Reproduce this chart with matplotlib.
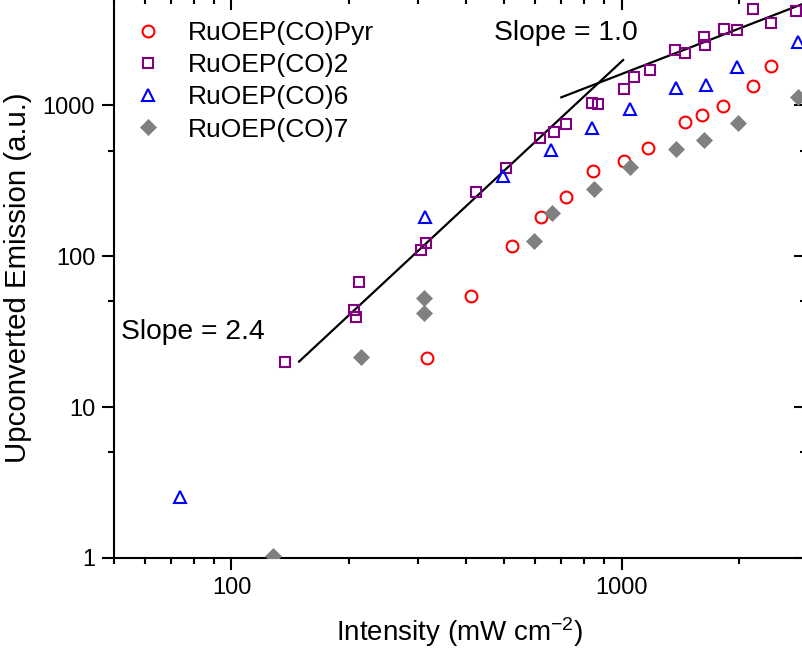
import matplotlib
matplotlib.use("Agg")
import matplotlib.pyplot as plt
from matplotlib.ticker import FixedLocator, NullFormatter, FuncFormatter
import numpy as np

plt.rcParams['font.family'] = ['Liberation Sans', 'DejaVu Sans']
plt.rcParams['mathtext.fontset'] = 'custom'
plt.rcParams['mathtext.rm'] = 'Liberation Sans'
plt.rcParams['mathtext.it'] = 'Liberation Sans:italic'
plt.rcParams['mathtext.bf'] = 'Liberation Sans:bold'

###################################
# data
###################################

pyr_x = [317, 412, 524, 622, 721, 845, 1014, 1164, 1456, 1610, 1819, 2173, 2405]
pyr_y = [21.2, 54.3, 117, 182, 247, 367, 428, 516, 775, 858, 990, 1336, 1812]

co2_x = [137, 212, 206, 209, 305, 315, 424, 505, 619, 670, 721, 841, 869, 1014,
         1073, 1180, 1371, 1452, 1622, 1630, 1828, 1968, 2163, 2405, 2793]
co2_y = [20, 67.3, 43.9, 39.4, 110, 122, 267, 384, 601, 659, 748, 1036, 1010, 1270,
         1540, 1698, 2312, 2218, 2831, 2495, 3172, 3141, 4345, 3509, 4198]

co6_x = [74, 314, 497, 660, 841, 1049, 1381, 1648, 1968, 2832]
co6_y = [2.54, 182, 341, 504, 701, 936, 1290, 1357, 1795, 2625]

co7_x = [128, 215, 312, 312, 596, 664, 848, 1052, 1374, 1622, 1987, 2832]
co7_y = [1.03, 21.5, 53, 41.7, 126, 192, 276, 390, 509, 586, 756, 1135]

# fitted lines (end points)
fit1_x = [149, 1008]
fit1_y = [20, 1987]
fit2_x = [700, 3000]
fit2_y = [1125, 4821]

W, H = 803, 655
fig = plt.figure(figsize=(W / 100, H / 100), dpi=100)
# axes spill a little past the top/right edge, like the cropped original
left, bottom, right, top = 114, 558, 806, -2
ax = fig.add_axes([left / W, 1 - bottom / H, (right - left) / W, (bottom - top) / H])
ax.set_xscale('log')
ax.set_yscale('log')
ax.set_xlim(50, 2965)
ax.set_ylim(1, 5117)

ax.plot(fit1_x, fit1_y, color='black', lw=1.6, zorder=2)
ax.plot(fit2_x, fit2_y, color='black', lw=1.6, zorder=2)

ax.plot(pyr_x, pyr_y, 'o', ls='none', mfc='none', mec='#FF0000', ms=8.5, mew=1.5, label='RuOEP(CO)Pyr', zorder=3)
ax.plot(co2_x, co2_y, 's', ls='none', mfc='none', mec='#800080', ms=7.5, mew=1.5, label='RuOEP(CO)2', zorder=3)
ax.plot(co6_x, co6_y, '^', ls='none', mfc='none', mec='#0000FF', ms=9, mew=1.5, label='RuOEP(CO)6', zorder=3)
ax.plot(co7_x, co7_y, 'D', ls='none', mfc='#808080', mec='#808080', ms=8, mew=0.5, label='RuOEP(CO)7', zorder=3)

ax.text(52, 31.4, 'Slope = 2.4', fontsize=20.3, ha='left', va='center')
ax.text(470, 3000, 'Slope = 1.0', fontsize=20.3, ha='left', va='center')

# ticks
xmaj = [100, 1000]
xmin = [m * d for d in (10, 100, 1000) for m in range(2, 10) if 50 <= m * d <= 3000]
ymaj = [1, 10, 100, 1000]
ymin = [5, 50, 500]
ax.xaxis.set_major_locator(FixedLocator(xmaj))
ax.xaxis.set_minor_locator(FixedLocator(xmin))
ax.yaxis.set_major_locator(FixedLocator(ymaj))
ax.yaxis.set_minor_locator(FixedLocator(ymin))
fmt = FuncFormatter(lambda v, p: '%d' % v)
ax.xaxis.set_major_formatter(fmt)
ax.yaxis.set_major_formatter(fmt)
ax.xaxis.set_minor_formatter(NullFormatter())
ax.yaxis.set_minor_formatter(NullFormatter())

for s in ax.spines.values():
    s.set_linewidth(1.5)
ax.tick_params(which='both', direction='out', width=1.5, labelsize=17, pad=5)
ax.tick_params(which='major', length=8.5)
ax.tick_params(which='minor', length=4.5)
# secondary ticks on top/right go inward
ax2 = ax.secondary_xaxis('top')
ax2.set_xticks(xmaj)
ax2.set_xticks(xmin, minor=True)
ax2.tick_params(which='both', direction='in', width=1.5, labeltop=False)
ax2.tick_params(which='major', length=8.5)
ax2.tick_params(which='minor', length=4.5)
ax2.xaxis.set_major_formatter(NullFormatter())
ax2.xaxis.set_minor_formatter(NullFormatter())
ax3 = ax.secondary_yaxis('right')
ax3.set_yticks(ymaj)
ax3.set_yticks(ymin, minor=True)
ax3.tick_params(which='both', direction='in', width=1.5, labelright=False)
ax3.tick_params(which='major', length=8.5)
ax3.tick_params(which='minor', length=4.5)
ax3.yaxis.set_major_formatter(NullFormatter())
ax3.yaxis.set_minor_formatter(NullFormatter())

ax.set_xlabel('Intensity (mW cm$^{\\mathrm{-2}}$)', fontsize=20, labelpad=12)
ax.set_ylabel('Upconverted Emission (a.u.)', fontsize=21.2, labelpad=8)

leg = ax.legend(loc='upper left', bbox_to_anchor=(135 / W, 1 - 21 / H),
                bbox_transform=fig.transFigure, frameon=False, fontsize=19,
                handlelength=1.0, handletextpad=1.0, labelspacing=0.31,
                borderpad=0, borderaxespad=0, numpoints=1)

fig.savefig('out.png', dpi=100)
